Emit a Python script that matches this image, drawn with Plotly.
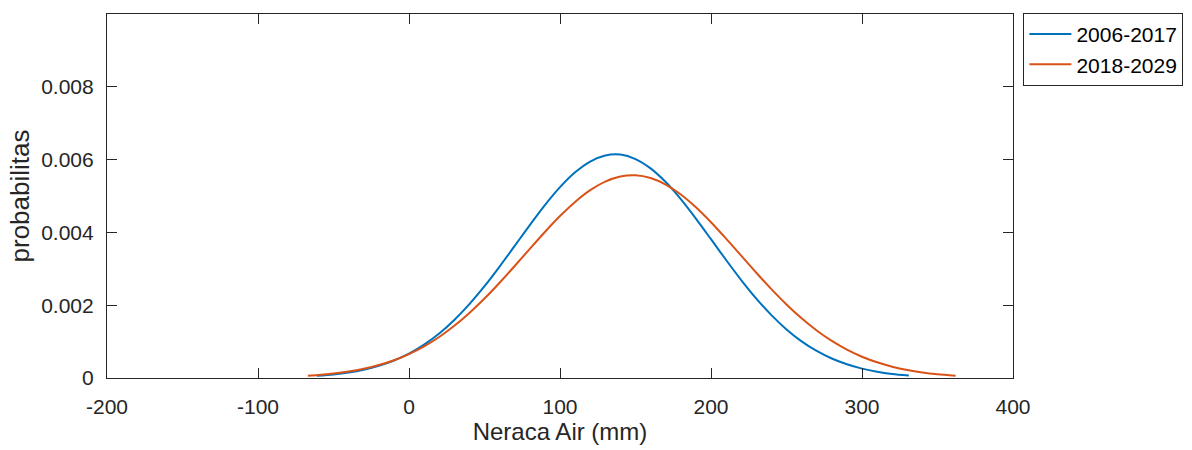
import plotly.graph_objects as go

# Values
x_2006 = [-61, -50, -40, -30, -20, -10, 0, 10, 20, 30, 40, 50, 60, 70, 80, 90, 100, 110, 120, 130, 140,
          150, 160, 170, 180, 190, 200, 210, 220, 230, 240, 250, 260, 270, 280, 290, 300, 310, 320, 331]
y_2006 = [0.0000597, 0.0000985, 0.000152, 0.000228, 0.000334, 0.000479, 0.000670, 0.000917, 0.001223,
          0.001595, 0.002030, 0.002522, 0.003062, 0.003629, 0.004201, 0.004748, 0.005242, 0.005650,
          0.005947, 0.006113, 0.006137, 0.006015, 0.005759, 0.005383, 0.004914, 0.004380, 0.003813,
          0.003241, 0.002691, 0.002181, 0.001727, 0.001335, 0.001008, 0.000743, 0.000535, 0.000376,
          0.000258, 0.000173, 0.000113, 0.0000693]

x_2018 = [-67, -60, -50, -40, -30, -20, -10, 0, 10, 20, 30, 40, 50, 60, 70, 80, 90, 100, 110, 120, 130,
          140, 150, 160, 170, 180, 190, 200, 210, 220, 230, 240, 250, 260, 270, 280, 290, 300, 310, 320,
          330, 340, 350, 362]
y_2018 = [0.0000613, 0.0000819, 0.000122, 0.000177, 0.000253, 0.000355, 0.000488, 0.000658, 0.000870,
          0.001127, 0.001433, 0.001786, 0.002183, 0.002617, 0.003077, 0.003548, 0.004012, 0.004449,
          0.004838, 0.005160, 0.005397, 0.005535, 0.005568, 0.005493, 0.005313, 0.005040, 0.004690,
          0.004279, 0.003828, 0.003360, 0.002891, 0.002440, 0.002019, 0.001639, 0.001305, 0.001018,
          0.000779, 0.000585, 0.000431, 0.000311, 0.000220, 0.000153, 0.000104, 0.000064]

series_names = ["2006-2017", "2018-2029"]
x_tickvals = [-200, -100, 0, 100, 200, 300, 400]
x_ticktext = ["-200", "-100", "0", "100", "200", "300", "400"]
y_tickvals = [0, 0.002, 0.004, 0.006, 0.008]
y_ticktext = ["0", "0.002", "0.004", "0.006", "0.008"]

AX = "#262626"
FONT = "Liberation Sans, Arial, Helvetica, sans-serif"

fig = go.Figure()
fig.add_trace(go.Scatter(x=x_2006, y=y_2006, mode="lines", name=series_names[0],
                         line=dict(color="#0072BD", width=2, shape="spline", smoothing=0.8)))
fig.add_trace(go.Scatter(x=x_2018, y=y_2018, mode="lines", name=series_names[1],
                         line=dict(color="#D95319", width=2, shape="spline", smoothing=0.8)))

fig.update_layout(
    width=1192, height=450,
    margin=dict(l=107, r=179, t=14, b=72, autoexpand=False),
    paper_bgcolor="white", plot_bgcolor="white",
    font=dict(family=FONT, color=AX, size=21),
    showlegend=True,
    legend=dict(x=1.0115, y=1.003, xanchor="left", yanchor="top",
                bordercolor=AX, borderwidth=1, bgcolor="white",
                font=dict(size=21, color="#000000"), itemwidth=42,
                tracegroupgap=0),
    xaxis=dict(range=[-200, 400], tickvals=x_tickvals, ticktext=x_ticktext,
               showgrid=False, zeroline=False, showline=True, linecolor=AX, linewidth=1.2,
               mirror="ticks", ticks="inside", ticklen=10, tickcolor=AX, tickwidth=1.2,
               ticklabelstandoff=10,
               tickfont=dict(size=21, color=AX),
               title=dict(text="Neraca Air (mm)", font=dict(size=24, color=AX), standoff=5)),
    yaxis=dict(range=[0, 0.01], tickvals=y_tickvals, ticktext=y_ticktext,
               showgrid=False, zeroline=False, showline=True, linecolor=AX, linewidth=1.2,
               mirror="ticks", ticks="inside", ticklen=10, tickcolor=AX, tickwidth=1.2,
               ticklabelstandoff=8,
               tickfont=dict(size=21, color=AX),
               title=dict(text="probabilitas", font=dict(size=26, color=AX), standoff=4)),
)

fig.write_html("out.html")
